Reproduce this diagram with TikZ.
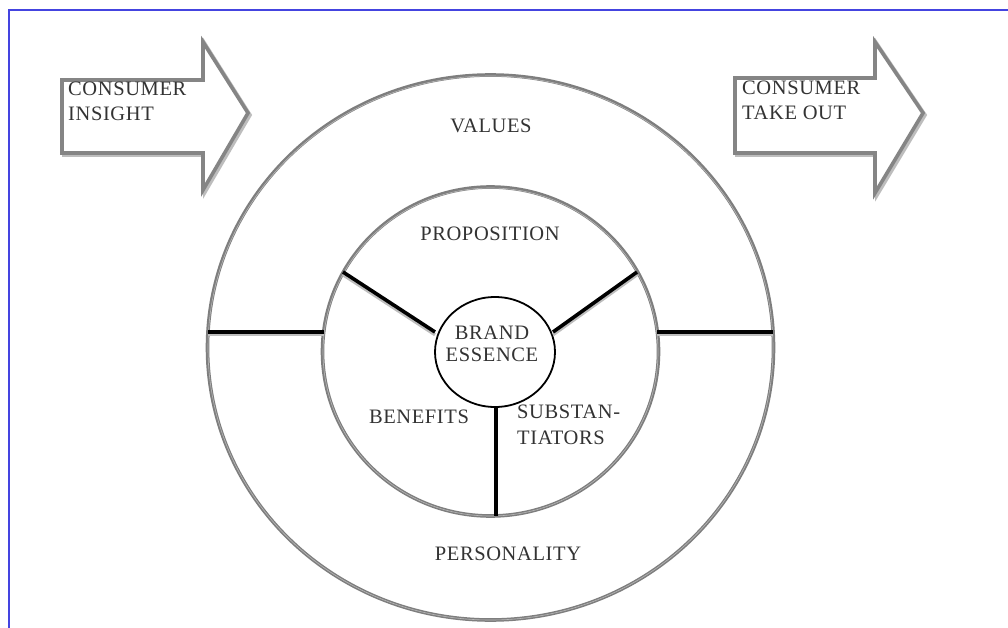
\documentclass[tikz,border=0pt]{standalone}
\usepackage{fontspec}
\setmainfont{Liberation Serif}
\usetikzlibrary{shapes.geometric}
\definecolor{ringgray}{HTML}{7E7E7E}
\definecolor{ringlight}{HTML}{B8B8B8}
\definecolor{arrowgray}{HTML}{858585}
\definecolor{shadowgray}{HTML}{BDBDBD}
\definecolor{textgray}{HTML}{333333}
\definecolor{bordblue}{HTML}{4444E0}
\begin{document}
\begin{tikzpicture}[x=1pt,y=-1pt,
  ring/.style={ellipse, draw=ringgray, line width=3.6pt, inner sep=0pt},
  ringhi/.style={ellipse, draw=ringlight, line width=0.6pt, inner sep=0pt},
  spoke/.style={draw=black, line width=3.6pt},
  spokeshadow/.style={draw=shadowgray, line width=3.2pt},
  arrowbox/.style={draw=arrowgray, line width=3.6pt, fill=white, line join=miter},
  arrowshadow/.style={draw=shadowgray, line width=3.6pt, line join=miter},
  lbl/.style={font=\fontsize{20.5}{25}\selectfont\addfontfeature{LetterSpace=3}, text=textgray, inner sep=0pt},
]
\useasboundingbox (0,0) rectangle (1008,628);
\fill[white] (0,0) rectangle (1008,628);
% frame
\draw[bordblue, line width=2pt] (9,628) -- (9,10) -- (1008,10);

% arrows
\draw[arrowshadow] (64,82) -- (205,82) -- (205,44) -- (250,115) -- (205,192) -- (205,155) -- (64,155) -- cycle;
\draw[arrowbox] (62,80) -- (203,80) -- (203,42) -- (248,113) -- (203,190) -- (203,153) -- (62,153) -- cycle;
\draw[arrowshadow] (737,80) -- (877,80) -- (877,44) -- (925,115) -- (877,195) -- (877,155) -- (737,155) -- cycle;
\draw[arrowbox] (735,78) -- (875,78) -- (875,42) -- (923,113) -- (875,193) -- (875,153) -- (735,153) -- cycle;
\node[lbl, anchor=west, align=left] (insight) at (68,101.5) {CONSUMER\\INSIGHT};
\node[lbl, anchor=west, align=left] (takeout) at (742,100) {CONSUMER\\TAKE OUT};

% rings
\node[ring, minimum width=566pt, minimum height=545pt] (outer) at (490.5,347.5) {};
\node[ringhi, minimum width=565pt, minimum height=544pt] (outerhi) at (490.5,348) {};
\node[ring, minimum width=336pt, minimum height=329pt] (inner) at (490.5,351.5) {};
\node[ringhi, minimum width=335pt, minimum height=328pt] (innerhi) at (490.5,352) {};
\node[ellipse, draw=black, line width=1.8pt, fill=white, minimum width=120pt, minimum height=110pt, inner sep=0pt] (core) at (495,352) {};

% spoke end points
\coordinate (oL) at (208,332);
\coordinate (iL) at (324,332);
\coordinate (iR) at (657,332);
\coordinate (oR) at (773,332);
\coordinate (iUL) at (343,272);
\coordinate (cUL) at (435,332);
\coordinate (iUR) at (637,272);
\coordinate (cUR) at (553,332);
\coordinate (cB) at (496,407);
\coordinate (iB) at (496,516);

\foreach \a/\b in {oL/iL, iR/oR, iUL/cUL, iUR/cUR}{
  \draw[spokeshadow] ([yshift=-2.8pt]\a) -- ([yshift=-2.8pt]\b);
  \draw[spoke] (\a) -- (\b);
}
\draw[spoke] (cB) -- (iB);

% labels
\node[lbl] (values) at (491,126) {VALUES};
\node[lbl] (prop) at (490,234) {PROPOSITION};
\node[lbl, align=center, font=\fontsize{20.5}{22}\selectfont\addfontfeature{LetterSpace=3}] (brand) at (492,344) {BRAND\\ESSENCE};
\node[lbl] (benefits) at (419,417) {BENEFITS};
\node[lbl, anchor=west, align=left, font=\fontsize{20.5}{26}\selectfont\addfontfeature{LetterSpace=3}] (subst) at (517,425) {SUBSTAN-\\TIATORS};
\node[lbl] (pers) at (508,554) {PERSONALITY};
\end{tikzpicture}
\end{document}
